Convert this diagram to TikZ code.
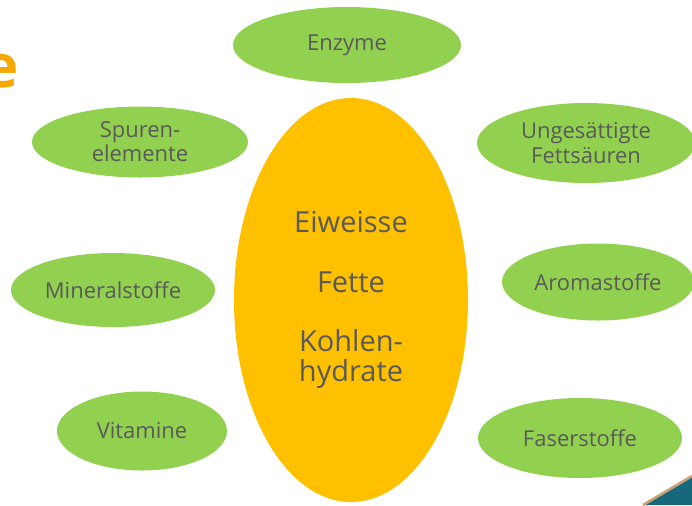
\documentclass[tikz,border=0pt]{standalone}
\usepackage{fontspec}
\setmainfont{Open Sans}
\usepackage{tikz}
\usetikzlibrary{shapes.geometric}
\definecolor{blattgruen}{HTML}{92D050}
\definecolor{kerngelb}{HTML}{FFC000}
\definecolor{schrift}{HTML}{5A5A5A}
\definecolor{titelorange}{HTML}{F7A800}
\definecolor{eckteal}{HTML}{17687A}
\definecolor{eckbraun}{HTML}{C9A27A}
\tikzset{
    stoff/.style={ellipse, fill=blattgruen, text=schrift, inner sep=0pt, align=center, font=\fontsize{12.5}{13.8}\selectfont},
    kernstoff/.style={ellipse, fill=kerngelb, text=schrift, inner sep=0pt, align=center, font=\fontsize{16.5}{16.8}\selectfont},
    achsen/.style 2 args={minimum width=#1*0.02cm, minimum height=#2*0.02cm}
}

\begin{document}
\begin{tikzpicture}[x=0.02cm, y=-0.02cm]
    \useasboundingbox (0,0) rectangle (692,505);
    \node[kernstoff, achsen={234}{404}] (kern) at (351,300) {Eiweisse\\[0.6cm]Fette\\[0.6cm]Kohlen-\\hydrate};
    \node[stoff, achsen={228}{76}] (enzyme) at (347,45) {Enzyme};
    \node[stoff, achsen={216}{71}] (spuren) at (140,142) {Spuren-\\elemente};
    \node[stoff, achsen={218}{80}] (fettsaeuren) at (586,143) {Ungesättigte\\Fettsäuren};
    \node[stoff, achsen={204}{74}] (mineral) at (113,290) {Mineralstoffe};
    \node[stoff, achsen={192}{77}] (aroma) at (598,282) {Aromastoffe};
    \node[stoff, achsen={170}{79}] (vitamine) at (142,431) {Vitamine};
    \node[stoff, achsen={204}{80}] (faser) at (580,438) {Faserstoffe};
    \node[anchor=base east, inner sep=0pt, text=titelorange, font=\fontsize{34}{34}\bfseries] (titel) at (19,87) {e};
    \fill[eckteal] (643,505) coordinate (E1) -- (692,476) coordinate (E2) -- (692,505) -- cycle;
    \draw[eckbraun, line width=1.5pt] (E1) -- (E2);
\end{tikzpicture}
\end{document}
